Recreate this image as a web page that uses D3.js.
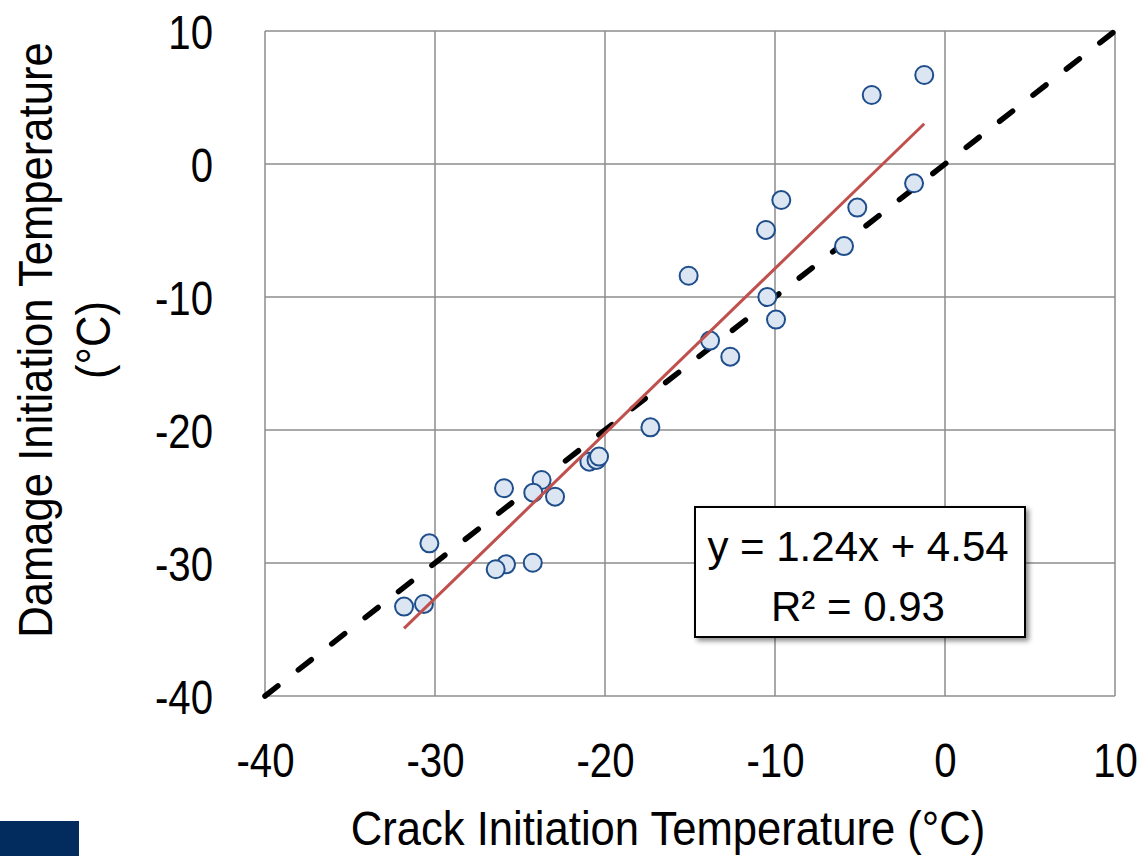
<!DOCTYPE html>
<html>
<head>
<meta charset="utf-8">
<script src="https://cdn.jsdelivr.net/npm/d3@7"></script>
<style>
  html, body { margin: 0; padding: 0; background: #fff; }
  svg { display: block; }
  text { font-family: 'Liberation Sans', Arial, sans-serif; fill: #000; }
</style>
</head>
<body>
<svg id="chart" width="1141" height="856"></svg>
<script>
// data
const crackTemp = [-1.22, -4.31, -1.82, -9.63, -5.16, -10.53, -5.94, -15.08, -10.45, -9.94,
  -13.82, -12.63, -17.33, -20.92, -20.5, -20.35, -25.94, -23.73, -24.22, -22.94,
  -30.33, -24.25, -25.82, -26.43, -31.82, -30.65];
const damageTemp = [6.69, 5.19, -1.45, -2.71, -3.28, -4.96, -6.17, -8.4, -10.0, -11.7,
  -13.28, -14.49, -19.8, -22.38, -22.25, -22.0, -24.38, -23.76, -24.71, -25.01,
  -28.52, -29.98, -30.1, -30.47, -33.28, -33.08];

const xTicks = [-40, -30, -20, -10, 0, 10];
const yTicks = [-40, -30, -20, -10, 0, 10];
const fitSlope = 1.24;
const fitIntercept = 4.54;
const fitLabel = ['y = 1.24x + 4.54', 'R² = 0.93'];
const xTitle = 'Crack Initiation Temperature (°C)';
const yTitle = ['Damage Initiation Temperature', '(°C)'];

const svg = d3.select('#chart');
const plotL = 265, plotR = 1115, plotT = 31, plotB = 696;
// narrow font faked by squeezing Liberation Sans horizontally
const tickSqueeze = 0.82, titleSqueeze = 0.89;
const fmt = d => String(d); // plain hyphen, like the original

const x = d3.scaleLinear().domain([-40, 10]).range([plotL, plotR]);
const y = d3.scaleLinear().domain([-40, 10]).range([plotB, plotT]);

const defs = svg.append('defs');
const shadow = defs.append('filter').attr('id', 'box-shadow')
  .attr('x', '-10%').attr('y', '-10%').attr('width', '130%').attr('height', '140%');
shadow.append('feDropShadow')
  .attr('dx', 3).attr('dy', 3).attr('stdDeviation', 2.5)
  .attr('flood-color', '#000').attr('flood-opacity', 0.45);

// gridlines
const grid = svg.append('g').attr('stroke', '#8c8c8c').attr('stroke-width', 1.5);
grid.selectAll('.vgrid').data(xTicks).join('line')
  .attr('x1', d => x(d)).attr('x2', d => x(d))
  .attr('y1', plotT).attr('y2', plotB);
grid.selectAll('.hgrid').data(yTicks).join('line')
  .attr('x1', plotL).attr('x2', plotR)
  .attr('y1', d => y(d)).attr('y2', d => y(d));

// axes (labels only, lines drawn as grid)
const xAxis = svg.append('g')
  .attr('transform', `translate(0,${plotB})`)
  .call(d3.axisBottom(x).tickValues(xTicks).tickSize(0).tickPadding(46).tickFormat(fmt));
xAxis.select('.domain').remove();
xAxis.attr('font-family', null).attr('font-size', 49);
xAxis.selectAll('text').attr('transform', `scale(${tickSqueeze},1)`);

const yAxis = svg.append('g')
  .attr('transform', `translate(${plotL},0)`)
  .call(d3.axisLeft(y).tickValues(yTicks).tickSize(0).tickPadding(52).tickFormat(fmt));
yAxis.select('.domain').remove();
yAxis.attr('font-family', null).attr('font-size', 49);
yAxis.selectAll('text')
  .attr('x', -52 / tickSqueeze)
  .attr('dy', '0.36em')
  .attr('transform', `scale(${tickSqueeze},1)`);

// 1:1 line, drawn from the top right so the dash phase matches
svg.append('line')
  .attr('x1', x(10)).attr('y1', y(10))
  .attr('x2', x(-40)).attr('y2', y(-40))
  .attr('stroke', '#000').attr('stroke-width', 5.5)
  .attr('stroke-linecap', 'round')
  .attr('stroke-dasharray', '16.5 25.9')
  .attr('stroke-dashoffset', -2.8);

// points
svg.append('g').selectAll('circle')
  .data(crackTemp.map((c, i) => [c, damageTemp[i]]))
  .join('circle')
  .attr('cx', d => x(d[0])).attr('cy', d => y(d[1]))
  .attr('r', 9)
  .attr('fill', '#dce6f2')
  .attr('stroke', '#1f4e8c')
  .attr('stroke-width', 2);

// linear fit
const fitX = d3.extent(crackTemp);
svg.append('line')
  .attr('x1', x(fitX[0])).attr('y1', y(fitSlope * fitX[0] + fitIntercept))
  .attr('x2', x(fitX[1])).attr('y2', y(fitSlope * fitX[1] + fitIntercept))
  .attr('stroke', '#c0504d').attr('stroke-width', 3);

// equation box
const box = svg.append('g');
box.append('rect')
  .attr('x', 695).attr('y', 507).attr('width', 330).attr('height', 130)
  .attr('fill', '#fff').attr('stroke', '#000').attr('stroke-width', 2)
  .attr('filter', 'url(#box-shadow)');
box.selectAll('text').data(fitLabel).join('text')
  .attr('x', 858).attr('y', (d, i) => 561 + i * 60)
  .attr('text-anchor', 'middle').attr('font-size', 42)
  .text(d => d);

// axis titles
svg.append('text')
  .attr('transform', `translate(668,845) scale(${titleSqueeze},1)`)
  .attr('text-anchor', 'middle').attr('font-size', 49)
  .text(xTitle);

const yt = svg.append('text')
  .attr('transform', `translate(52,340) rotate(-90) scale(${titleSqueeze},1)`)
  .attr('text-anchor', 'middle').attr('font-size', 49);
yt.selectAll('tspan').data(yTitle).join('tspan')
  .attr('x', 0).attr('dy', (d, i) => i === 0 ? 0 : 58)
  .text(d => d);

// corner block
svg.append('rect')
  .attr('x', 0).attr('y', 821).attr('width', 79).attr('height', 35)
  .attr('fill', '#022c5d');
</script>
</body>
</html>
